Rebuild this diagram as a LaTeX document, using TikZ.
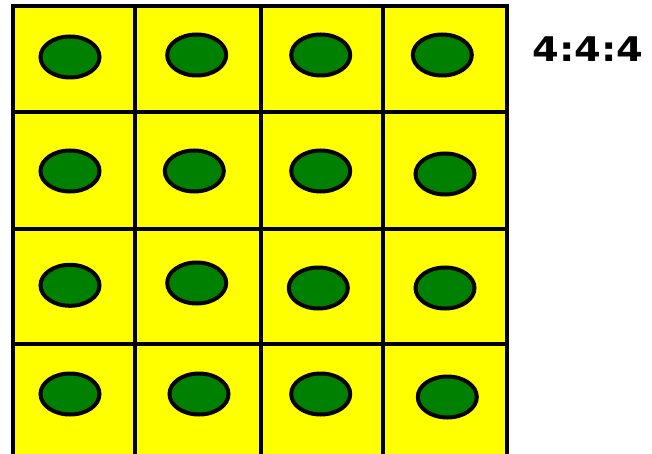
\documentclass[tikz,border=0pt]{standalone}
\usepackage{fontspec}
\setsansfont{DejaVu Sans}
\usepackage{graphicx}
\usetikzlibrary{shapes.geometric}
\definecolor{cellyellow}{HTML}{FFFF00}
\definecolor{dotgreen}{HTML}{008000}
\begin{document}
\begin{tikzpicture}[
  x=1pt,y=-1pt,
  gridline/.style={draw=black,line width=4pt},
  dot/.style={ellipse,draw=black,line width=4pt,fill=dotgreen,minimum width=59pt,minimum height=41pt,inner sep=0pt},
  ratio/.style={font=\sffamily\bfseries\fontsize{34}{34}\selectfont,inner sep=0pt}
]
\useasboundingbox (0,0) rectangle (652,454);
% sampling grid
\fill[cellyellow] (13,6) rectangle (507,457);
\foreach \x in {13,134.5,261,383,507}
  \draw[gridline] (\x,4) -- (\x,459);
\foreach \y in {6,112,229,344,457}
  \draw[gridline] (11,\y) -- (509,\y);
% chroma samples
\foreach \x/\y [count=\i] in {70/57,196.7/55,320.7/55,442.3/55,
    70/171,194.3/171,320.7/171,445/174,
    70/285.3,196.7/283,318.3/288,445/288,
    70/394,199/394,320.7/394,447.3/397}
  \node[dot] (s\i) at (\x,\y) {};
\node[ratio] (lbl) at (588,49) {\scalebox{1.13}[1]{4:4:4}};
\end{tikzpicture}
\end{document}
